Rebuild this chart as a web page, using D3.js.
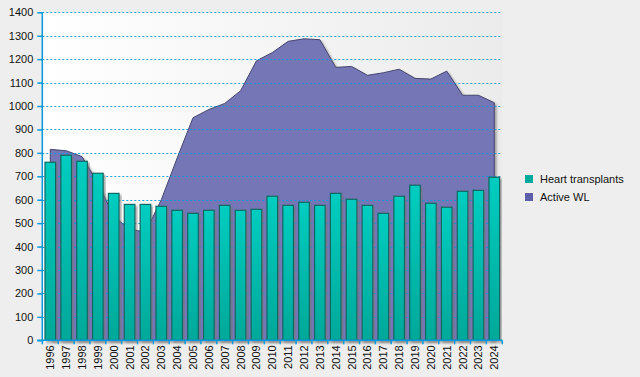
<!DOCTYPE html>
<html>
<head>
<meta charset="utf-8">
<script src="https://cdn.jsdelivr.net/npm/d3@7"></script>
<style>
	body { margin: 0; background: #eeeeee; }
	text { font-family: 'Liberation Sans', Arial, sans-serif; font-size: 11px; fill: #111; }
</style>
</head>
<body>
<div id="root"></div>
<script>
const years			= ['1996','1997','1998','1999','2000','2001','2002','2003','2004','2005','2006','2007','2008','2009','2010','2011','2012','2013','2014','2015','2016','2017','2018','2019','2020','2021','2022','2023','2024'];
const transplants	= [760, 790, 764, 713, 627, 580, 580, 572, 555, 542, 555, 576, 555, 559, 615, 576, 589, 576, 627, 602, 576, 542, 615, 662, 585, 568, 636, 640, 696];
const activeWL		= [815, 809, 784, 671, 529, 474, 462, 600, 778, 950, 985, 1011, 1065, 1193, 1228, 1276, 1287, 1283, 1165, 1169, 1131, 1142, 1157, 1118, 1115, 1149, 1046, 1046, 1014];
const yTicks		= [0, 100, 200, 300, 400, 500, 600, 700, 800, 900, 1000, 1100, 1200, 1300, 1400];
const legendItems	= [
	{ name: 'Heart transplants', color: '#00aa9e' },
	{ name: 'Active WL', color: '#5f5fa9' },
];

const canvasWidth	= 640;
const canvasHeight	= 377;
const plot			= { left: 42.3, right: 502.3, top: 12.3, bottom: 340.3 };
const axisColor		= '#0399db';

const svg	= d3.select('#root').append('svg')
	.attr('width', canvasWidth)
	.attr('height', canvasHeight);

let defs	= svg.append('defs');

let bg	= defs.append('linearGradient').attr('id', 'bg').attr('x1', 0).attr('x2', 1).attr('y1', 0).attr('y2', 0);
bg.append('stop').attr('offset', '0%').attr('stop-color', '#ffffff');
bg.append('stop').attr('offset', '100%').attr('stop-color', '#ebebeb');

let barGrad	= defs.append('linearGradient').attr('id', 'barGrad').attr('x1', 0).attr('x2', 0).attr('y1', 0).attr('y2', 1);
barGrad.append('stop').attr('offset', '0%').attr('stop-color', '#00cdc0');
barGrad.append('stop').attr('offset', '100%').attr('stop-color', '#00a899');

let shadow	= defs.append('filter').attr('id', 'shadow').attr('x', '-10%').attr('y', '-10%').attr('width', '130%').attr('height', '130%');
shadow.append('feDropShadow').attr('dx', 2).attr('dy', 2).attr('stdDeviation', 0.8)
	.attr('flood-color', '#777').attr('flood-opacity', 0.6);

const x	= d3.scaleBand()
	.domain(years)
	.range([plot.left, plot.right])
	.paddingInner(0.33)
	.paddingOuter(0.17);

const y	= d3.scaleLinear()
	.domain([0, 1400])
	.range([plot.bottom, plot.top]);

const cx	= (d) => x(d) + x.bandwidth() / 2;
const edge	= (d) => x(d) - x.step() * x.paddingInner() / 2;

// plot background
svg.append('rect')
	.attr('x', plot.left)
	.attr('y', plot.top)
	.attr('width', plot.right - plot.left)
	.attr('height', plot.bottom - plot.top)
	.attr('fill', 'url(#bg)');

// active waiting list area
let wl	= years.map((d, i) => ({ year: d, value: activeWL[i] }));

let area	= d3.area()
	.x((o) => cx(o.year))
	.y0(y(0))
	.y1((o) => y(o.value));

svg.append('path')
	.datum(wl)
	.attr('d', area)
	.attr('fill', '#7576b5')
	.attr('stroke', '#45456f')
	.attr('stroke-width', 1)
	.attr('filter', 'url(#shadow)');

// grid lines
svg.append('g')
	.selectAll('line').data(yTicks.filter((o) => o > 0)).enter().append('line')
	.attr('x1', plot.left)
	.attr('x2', plot.right)
	.attr('y1', (o) => Math.round(y(o)) + 0.5)
	.attr('y2', (o) => Math.round(y(o)) + 0.5)
	.attr('stroke', axisColor)
	.attr('stroke-opacity', 0.9)
	.attr('stroke-width', 1.2)
	.attr('stroke-dasharray', '2,2');

// heart transplant bars
svg.append('g')
	.selectAll('rect').data(years).enter().append('rect')
	.attr('x', (o) => x(o))
	.attr('y', (o, i) => y(transplants[i]))
	.attr('width', x.bandwidth())
	.attr('height', (o, i) => y(0) - y(transplants[i]))
	.attr('fill', 'url(#barGrad)')
	.attr('stroke', '#0b6763')
	.attr('stroke-width', 1.2)
	.attr('filter', 'url(#shadow)');

// y axis
let yAxis	= svg.append('g')
	.attr('transform', 'translate(' + plot.left + ',0)')
	.call(d3.axisLeft(y).tickValues(yTicks).tickSize(5).tickPadding(4).tickFormat(d3.format('d')));

yAxis.select('.domain').attr('stroke', axisColor).attr('stroke-width', 1.5).attr('d', 'M0,' + plot.top + 'V' + plot.bottom);
yAxis.selectAll('.tick line').attr('stroke', axisColor).attr('stroke-width', 1.5);
yAxis.selectAll('.tick text').style('font-size', '11px').attr('fill', '#111');

// x axis
let xAxis	= svg.append('g');

xAxis.append('line')
	.attr('x1', plot.left - 5)
	.attr('x2', plot.right)
	.attr('y1', plot.bottom)
	.attr('y2', plot.bottom)
	.attr('stroke', axisColor)
	.attr('stroke-width', 1.5);

xAxis.selectAll('.xtick').data(years.concat(['end'])).enter().append('line')
	.attr('x1', (o) => (o == 'end' ? plot.right : edge(o)))
	.attr('x2', (o) => (o == 'end' ? plot.right : edge(o)))
	.attr('y1', plot.bottom)
	.attr('y2', plot.bottom + 4)
	.attr('stroke', axisColor)
	.attr('stroke-width', 1.5);

xAxis.selectAll('text').data(years).enter().append('text')
	.attr('transform', (o) => ('translate(' + (cx(o) + 4) + ',' + (plot.bottom + 5) + ') rotate(-90)'))
	.attr('text-anchor', 'end')
	.text((o) => o);

// legend
let legends	= svg.append('g')
	.attr('transform', 'translate(525,175)')
	.selectAll('.legend').data(legendItems).enter().append('g')
	.attr('transform', (o, i) => ('translate(0,' + (i * 18) + ')'));

legends.append('rect')
	.attr('width', 8)
	.attr('height', 8)
	.attr('fill', (o) => o.color);

legends.append('text')
	.attr('x', 15)
	.attr('y', 8)
	.text((o) => o.name);
</script>
</body>
</html>
